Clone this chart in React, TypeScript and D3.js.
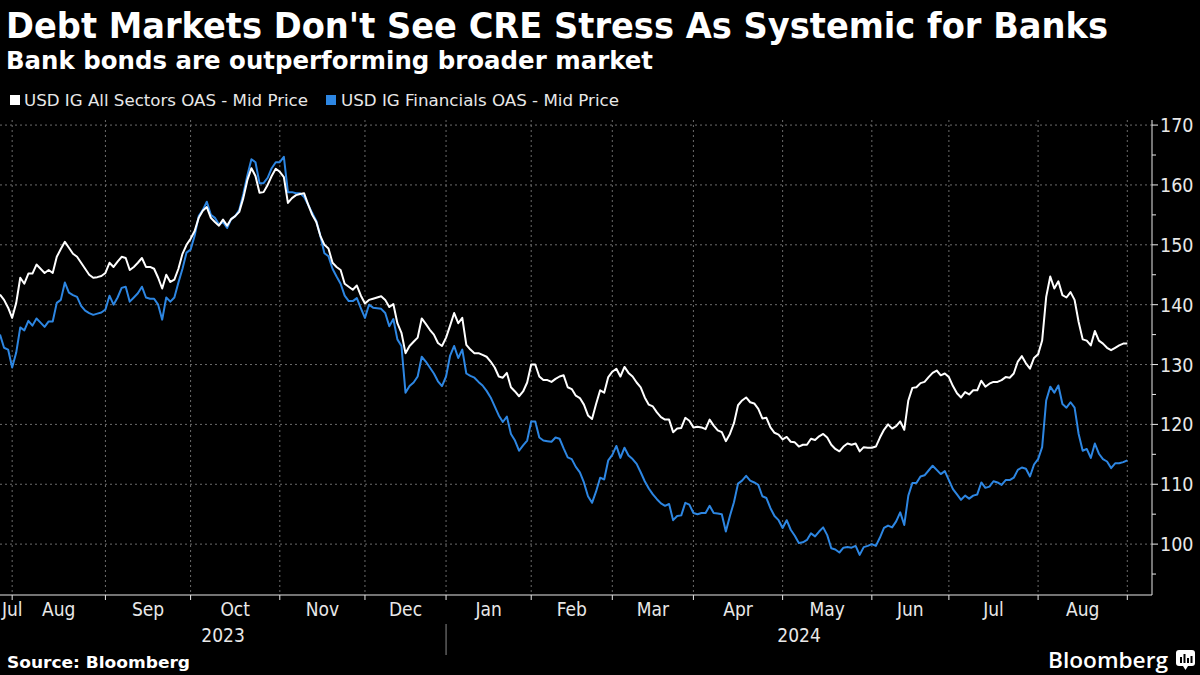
import React from "react";
import * as d3 from "d3";

// ---------- DATA ----------
const startDate = "2023-07-27";
const endDate = "2024-09-03";
const holidays = [
  "2023-11-23", "2023-12-25", "2024-01-01", "2024-01-15", "2024-02-19",
  "2024-03-29", "2024-05-27", "2024-06-19", "2024-07-04", "2024-09-02",
];
const monthLabels = ["Jul", "Aug", "Sep", "Oct", "Nov", "Dec", "Jan", "Feb", "Mar", "Apr", "May", "Jun", "Jul", "Aug"];
const yearLabels = ["2023", "2024"];
const yTicks = [100, 110, 120, 130, 140, 150, 160, 170];

const seriesNames = ["USD IG All Sectors OAS - Mid Price", "USD IG Financials OAS - Mid Price"];

const allSectors = [
  141.7, 140.8, 139.5, 137.8, 140.3, 144.5, 143.5, 145.2, 145.2, 146.7,
  146, 145.3, 145.8, 145.3, 148, 149.3, 150.5, 149.5, 148.5, 148,
  147, 146, 145, 144.5, 144.6, 144.8, 145.3, 147, 146.3, 147.2,
  148, 147.8, 145.8, 146.3, 147, 147.8, 146.3, 146.3, 146, 144.5,
  142.7, 145, 143.8, 144.2, 146, 148.5, 150, 151, 152.3, 154.5,
  155.7, 156.3, 154.5, 153.8, 153.2, 154.2, 153.2, 154.3, 154.8, 155.5,
  157.8, 160.8, 162.8, 161.5, 158.7, 158.8, 160, 161.5, 162.7, 162.2,
  161.3, 157, 157.8, 158.3, 158.5, 158.6, 156.7, 155, 153.8, 151.5,
  150, 149.4, 147, 146.3, 145.8, 143.5, 143, 142.5, 143.2, 141.5,
  140.2, 140.8, 141, 141.2, 141.4, 140.8, 139.6, 140.1, 136.9, 135.3,
  131.9, 133.1, 133.8, 134.5, 137.7, 136.8, 135.8, 135, 133.6, 133.1,
  134.5, 136.5, 138.6, 136.9, 137.8, 133.3, 132.5, 131.9, 131.9, 131.6,
  131.3, 130.5, 129.5, 128, 127.8, 128.6, 126.2, 125.5, 124.7, 125.5,
  127, 130, 130, 128, 127.4, 127.4, 127.1, 127.6, 128, 128.2,
  126.2, 125.9, 124.8, 124.4, 123.3, 121.5, 120.9, 123.4, 125.7, 125.3,
  127.9, 128.8, 129.3, 128, 129.6, 128.6, 128, 127, 126.2, 124.5,
  123.3, 123, 122, 121.2, 120.8, 120.8, 118.7, 119.3, 119.4, 121.1,
  120.6, 119.5, 119.6, 119.5, 119.2, 120.8, 119.8, 119, 118.7, 117.2,
  118.4, 120.2, 123.2, 124, 124.5, 123.7, 123.5, 122.6, 121, 121.1,
  119.5, 118.6, 118.3, 117.5, 117.9, 117.1, 117, 116.3, 116.6, 116.6,
  117.6, 117.4, 118, 118.4, 117.8, 116.6, 115.9, 115.5, 116.3, 116.8,
  116.6, 116.8, 115.5, 116.2, 116.1, 116.1, 116.3, 117.8, 119.1, 120,
  119.3, 119.7, 120.5, 119.1, 124, 126.1, 126.2, 126.9, 127.1, 127.9,
  128.6, 129, 128.2, 128.5, 127.9, 126.4, 125.2, 124.5, 125.4, 125,
  125.7, 125.7, 127.3, 126.3, 126.8, 127.1, 127.1, 127.4, 127.9, 127.8,
  128.5, 130.5, 131.4, 130.2, 129.3, 131.1, 131.7, 134, 141.3, 144.7,
  142.7, 143.9, 141.6, 141.2, 142.1, 140.8, 137.1, 134.2, 134, 133.2,
  135.6, 134, 133.5, 132.8, 132.4, 132.8, 133.2, 133.5, 133.5,
];

const financials = [
  135, 132.8, 132.5, 129.5, 132, 136.2, 135.7, 137.3, 136.5, 137.7,
  137, 136.3, 137.2, 137.2, 140.3, 140.8, 143.7, 142, 141.6, 141.3,
  139.8, 139, 138.6, 138.3, 138.5, 138.7, 139.2, 141.5, 140, 141.2,
  142.8, 143, 140.5, 141.2, 141.9, 143, 141.2, 141, 141, 140,
  137.5, 141.2, 140.5, 141.2, 143.7, 146, 148.7, 149.2, 151.5, 154.8,
  155.8, 157.2, 155, 154.5, 153.4, 153.8, 152.8, 154.3, 154.8, 155.8,
  158.5, 161.6, 164.3, 163.8, 160.3, 160.3, 161.2, 162.8, 163.8, 163.8,
  164.7, 158.8, 158.8, 158.6, 158.6, 158, 156.7, 155.3, 154, 151.5,
  148.6, 148.1, 146, 144.7, 143.5, 141.5, 140.6, 140.6, 141.1, 139.4,
  137.8, 140, 139.5, 139.4, 139.3, 138.6, 136.4, 137.6, 134.2, 133.1,
  125.3, 126.4, 127, 128, 131.3, 130.5, 129.5, 128.5, 127.2, 126.4,
  128, 131.5, 133.1, 131.1, 132.5, 128.5, 128.1, 127.8, 127.1, 126.5,
  125.6, 124.5, 123, 121.5, 120.4, 121.3, 118.4, 117.3, 115.6, 116.5,
  117.3, 120.5, 120.5, 117.8, 117.3, 117.2, 117.1, 117.8, 117.6, 116,
  114.5, 114.2, 112.9, 112, 110.3, 108, 106.9, 108.8, 111.1, 110.8,
  114, 114.9, 116.4, 114.4, 116.1, 114.8, 114.2, 113.4, 112, 110.5,
  109.3, 108.3, 107.5, 106.8, 106.4, 106.7, 104, 104.7, 104.8, 106.9,
  106.6, 105.2, 105, 105.2, 105.2, 106.4, 105.2, 105.1, 105, 102.1,
  104.7, 107, 110.1, 110.6, 111.4, 110.6, 110.3, 109.9, 108, 107.7,
  106, 104.7, 104, 102.7, 104, 102.4, 101.4, 100.2, 100.3, 100.7,
  101.8, 101.3, 102.1, 102.8, 101.5, 99.3, 99.1, 98.6, 99.4, 99.5,
  99.4, 99.7, 98.2, 99.5, 99.7, 100, 99.7, 101.1, 102.7, 103.1,
  102.8, 103.8, 105.3, 103.2, 108.1, 110.2, 110.2, 111.3, 111.5, 112.3,
  113.1, 112.4, 111.7, 112.2, 110.7, 109.2, 108.3, 107.4, 108.1, 107.6,
  108.1, 108.3, 110.3, 109.4, 109.6, 110.5, 110.3, 109.9, 110.7, 110.7,
  111.1, 112.4, 112.8, 112.6, 111.3, 113.3, 114.2, 116.2, 124, 126.3,
  125.3, 126.5, 123.4, 122.8, 123.7, 122.8, 118.4, 115.6, 115.9, 114.4,
  116.8, 115.1, 114.2, 113.8, 112.7, 113.5, 113.5, 113.7, 114,
];

// ---------- helpers ----------
const fmt = d3.utcFormat("%Y-%m-%d");
function buildTradingDays(): Date[] {
  const hol = new Set(holidays);
  const days = d3.utcDay.range(new Date(startDate + "T00:00:00Z"), d3.utcDay.offset(new Date(endDate + "T00:00:00Z"), 1));
  return days.filter((d) => {
    const wd = d.getUTCDay();
    return wd !== 0 && wd !== 6 && !hol.has(fmt(d));
  });
}

const W = 1200;
const H = 675;
const plotLeft = 0;
const plotRight = 1152;
const plotTop = 120;
const plotBottom = 595;
const lastX = 1127.3;

const WHITE = "#ffffff";
const BLUE = "#2d86e2";
const GRID = "#6b6b6b";
const TEXT = "#e8e8e8";
const FONT = "'DejaVu Sans Condensed', 'DejaVu Sans', sans-serif";

export default function App() {
  const days = buildTradingDays();
  const n = Math.min(days.length, allSectors.length, financials.length);

  const x = d3.scaleLinear().domain([0, days.length - 1]).range([plotLeft, lastX]);
  const y = d3.scaleLinear().domain([91.5, 170.85]).range([plotBottom, plotTop]);

  const monthStarts: number[] = [];
  for (let i = 1; i < days.length; i++) {
    if (days[i].getUTCMonth() !== days[i - 1].getUTCMonth()) monthStarts.push(i);
  }
  const monthTickX = monthStarts.map((i) => x(i));
  const bounds = [plotLeft, ...monthTickX];
  const yearStartIdx = monthStarts.find((i) => days[i].getUTCFullYear() === 2024) ?? 0;
  const yearSepX = x(yearStartIdx);

  const line = d3
    .line<number>()
    .x((_, i) => x(i))
    .y((v) => y(v));

  const minorTicks = d3.range(95, 171, 5).filter((v) => v % 10 !== 0);

  return (
    <svg width={W} height={H} style={{ position: "absolute", left: 0, top: 0, background: "#000" }} fontFamily={FONT}>
      <rect x={0} y={0} width={W} height={H} fill="#000" />
      {/* Titles */}
      <text x={6} y={38} fill={WHITE} fontSize={35} fontWeight="bold" textLength={1102} lengthAdjust="spacingAndGlyphs">
        Debt Markets Don't See CRE Stress As Systemic for Banks
      </text>
      <text x={6} y={69} fill={WHITE} fontSize={25} fontWeight="bold" textLength={647} lengthAdjust="spacingAndGlyphs">
        Bank bonds are outperforming broader market
      </text>
      {/* Legend */}
      <rect x={10} y={95} width={10} height={10} fill={WHITE} />
      <text x={24} y={106} fill={TEXT} fontSize={16.5} textLength={284} lengthAdjust="spacingAndGlyphs">
        {seriesNames[0]}
      </text>
      <rect x={326} y={95} width={10} height={10} fill={BLUE} />
      <text x={341} y={106} fill={TEXT} fontSize={16.5} textLength={278} lengthAdjust="spacingAndGlyphs">
        {seriesNames[1]}
      </text>

      {/* Grid */}
      {yTicks.map((v) => (
        <line key={"gh" + v} x1={plotLeft} x2={plotRight} y1={y(v)} y2={y(v)} stroke={GRID} strokeWidth={1} strokeDasharray="2,3" />
      ))}
      {monthTickX.map((mx, i) => (
        <line key={"gv" + i} x1={mx} x2={mx} y1={plotTop} y2={plotBottom} stroke={GRID} strokeWidth={1} strokeDasharray="2,3" />
      ))}

      {/* Lines */}
      <path d={line(financials.slice(0, n)) ?? ""} fill="none" stroke={BLUE} strokeWidth={2} strokeLinejoin="round" />
      <path d={line(allSectors.slice(0, n)) ?? ""} fill="none" stroke={WHITE} strokeWidth={2} strokeLinejoin="round" />

      {/* Right axis */}
      <line x1={plotRight} x2={plotRight} y1={plotTop} y2={plotBottom} stroke={TEXT} strokeWidth={1} />
      {yTicks.map((v) => (
        <g key={"yt" + v}>
          <line x1={plotRight} x2={plotRight + 6} y1={y(v)} y2={y(v)} stroke={TEXT} strokeWidth={1} />
          <text x={plotRight + 8} y={y(v) + 7} fill={TEXT} fontSize={19.5}>
            {v}
          </text>
        </g>
      ))}
      {minorTicks.map((v) => (
        <line key={"ym" + v} x1={plotRight} x2={plotRight + 4} y1={y(v)} y2={y(v)} stroke={TEXT} strokeWidth={1} />
      ))}

      {/* Bottom axis */}
      <line x1={plotLeft} x2={plotRight} y1={plotBottom} y2={plotBottom} stroke={TEXT} strokeWidth={1} />
      {monthTickX.map((mx, i) => (
        <line key={"xt" + i} x1={mx} x2={mx} y1={plotBottom} y2={plotBottom + 5} stroke={TEXT} strokeWidth={1} />
      ))}
      {monthLabels.map((m, i) => {
        const a = bounds[i];
        const b = i + 1 < bounds.length ? bounds[i + 1] : plotRight;
        const c = (a + b) / 2;
        const first = i === 0;
        return (
          <text key={"ml" + i} x={first ? 2 : c} y={616} fill={TEXT} fontSize={19} textAnchor={first ? "start" : "middle"}>
            {m}
          </text>
        );
      })}
      <text x={(plotLeft + yearSepX) / 2} y={642} fill={TEXT} fontSize={19} textAnchor="middle">
        {yearLabels[0]}
      </text>
      <text x={(yearSepX + plotRight) / 2} y={642} fill={TEXT} fontSize={19} textAnchor="middle">
        {yearLabels[1]}
      </text>
      <line x1={yearSepX} x2={yearSepX} y1={624} y2={655} stroke="#8a8a8a" strokeWidth={1} />

      {/* Footer */}
      <text x={7} y={668} fill={WHITE} fontSize={16} fontWeight="bold" textLength={183} lengthAdjust="spacingAndGlyphs">
        Source: Bloomberg
      </text>
      <text x={1048} y={668} fill={WHITE} fontSize={21} fontWeight="600" fontFamily="'Open Sans', 'DejaVu Sans', sans-serif" textLength={120} lengthAdjust="spacingAndGlyphs">
        Bloomberg
      </text>
      <g>
        <rect x={1176} y={650} width={19} height={16} rx={3} fill={WHITE} />
        <path d="M1183,666 L1185.5,670 L1188,666 Z" fill={WHITE} />
        <rect x={1180} y={657} width={2} height={6} fill="#000" />
        <rect x={1183.5} y={654} width={2} height={9} fill="#000" />
        <rect x={1187} y={658} width={2} height={5} fill="#000" />
        <rect x={1190.5} y={656} width={2} height={7} fill="#000" />
      </g>
    </svg>
  );
}
